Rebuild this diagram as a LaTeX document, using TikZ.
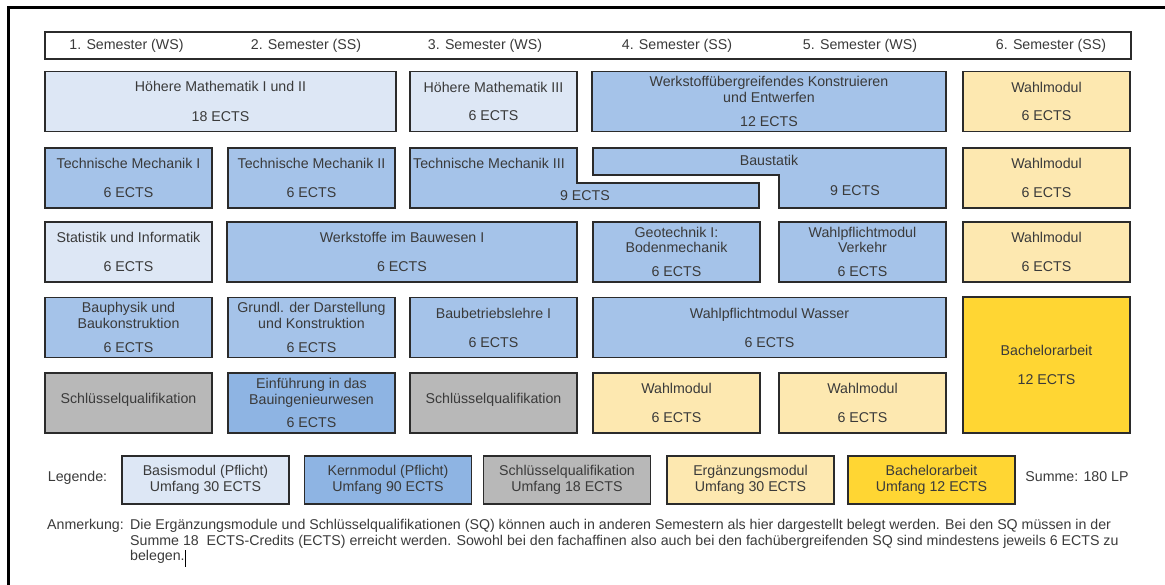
\documentclass[tikz,border=0pt]{standalone}
\usepackage{fontspec}
\setmainfont{Liberation Sans}
\definecolor{basisblue}{HTML}{DDE7F5}
\definecolor{kernblue}{HTML}{A5C3E9}
\definecolor{kerndark}{HTML}{8EB4E3}
\definecolor{sqgrey}{HTML}{B8B8B8}
\definecolor{ergyellow}{HTML}{FDE8B0}
\definecolor{bayellow}{HTML}{FFD633}
\definecolor{boxline}{HTML}{2B2B2B}
\definecolor{txt}{HTML}{3A3A3A}
\newcommand\modfont{\fontsize{14.2}{15.5}\selectfont}

\begin{document}
\begin{tikzpicture}[x=1pt,y=-1pt,
    every node/.style={font=\modfont, text=txt, inner sep=0pt},
    modbox/.style={draw=boxline, line width=1.4pt, minimum width=167, minimum height=60, align=center},
    basis/.style={modbox, fill=basisblue},
    kern/.style={modbox, fill=kernblue},
    kernb/.style={modbox, fill=kerndark},
    sq/.style={modbox, fill=sqgrey},
    erg/.style={modbox, fill=ergyellow},
    ba/.style={modbox, fill=bayellow},
    legbox/.style={minimum height=48}]

  \useasboundingbox (0,0) rectangle (1165,585);
  \draw[line width=3pt] (8,600) -- (8,8) -- (1180,8);

  % Semesterzeile
  \draw[boxline, line width=1.4pt, fill=white] (45,32) rectangle (1131,59);
  \node (s1) at (126.5,45.5) {1. Semester (WS)};
  \node (s2) at (306,45.5)   {2. Semester (SS)};
  \node (s3) at (485,45.5)   {3. Semester (WS)};
  \node (s4) at (677,45.5)   {4. Semester (SS)};
  \node (s5) at (860,45.5)   {5. Semester (WS)};
  \node (s6) at (1051,45.5)  {6. Semester (SS)};

  % Zeile 1
  \node[basis, minimum width=351] (hm12) at (220.5,101.5) {H\"ohere Mathematik I und II\\[14.5pt]18 ECTS};
  \node[basis] (hm3)  at (493.5,101.5) {H\"ohere Mathematik III\\[12.5pt]6 ECTS};
  \node[kern, minimum width=354] (wuk) at (769,101.5) {Werkstoff\"ubergreifendes Konstruieren\\und Entwerfen\\[8.5pt]12 ECTS};
  \node[erg] (wm1) at (1046.5,101.5) {Wahlmodul\\[12.5pt]6 ECTS};

  % Zeile 2
  \node[kern] (tm1) at (128.5,178) {Technische Mechanik I\\[13.5pt]6 ECTS};
  \node[kern] (tm2) at (311.5,178) {Technische Mechanik II\\[13.5pt]6 ECTS};
  \draw[boxline, line width=1.4pt, fill=kernblue]
    (410,148) -- (577,148) -- (577,183) -- (759,183) -- (759,208) -- (410,208) -- cycle;
  \draw[boxline, line width=1.4pt, fill=kernblue]
    (593,148) -- (946,148) -- (946,208) -- (779,208) -- (779,175) -- (593,175) -- cycle;
  \node (tm3)  at (489,163) {Technische Mechanik III};
  \node (tm3e) at (585,196) {9 ECTS};
  \node (bst)  at (769,160) {Baustatik};
  \node (bste) at (855,191) {9 ECTS};
  \node[erg] (wm2) at (1046.5,178) {Wahlmodul\\[13.5pt]6 ECTS};

  % Zeile 3
  \node[basis] (sti) at (128.5,252) {Statistik und Informatik\\[13.5pt]6 ECTS};
  \node[kern, minimum width=350] (wbw) at (402,252) {Werkstoffe im Bauwesen I\\[13.5pt]6 ECTS};
  \node[kern] (geo) at (676.5,252) {Geotechnik I:\\Bodenmechanik\\[8.5pt]6 ECTS};
  \node[kern] (wpv) at (862.5,252) {Wahlpflichtmodul\\Verkehr\\[8.5pt]6 ECTS};
  \node[erg] (wm3) at (1046.5,252) {Wahlmodul\\[13.5pt]6 ECTS};

  % Zeile 4
  \node[kern] (bph) at (128.5,327.5) {Bauphysik und\\Baukonstruktion\\[8.5pt]6 ECTS};
  \node[kern] (gdk) at (311.5,327.5) {Grundl. der Darstellung\\und Konstruktion\\[8.5pt]6 ECTS};
  \node[kern] (bbl) at (493.5,327.5) {Baubetriebslehre I\\[13.5pt]6 ECTS};
  \node[kern, minimum width=353] (wpw) at (769.5,327.5) {Wahlpflichtmodul Wasser\\[13.5pt]6 ECTS};
  \node[ba, minimum height=136] (bsc) at (1046.5,365) {Bachelorarbeit\\[13.5pt]12 ECTS};

  % Zeile 5
  \node[sq] (sq1) at (128.5,403) {\raisebox{3pt}[\height][\depth]{Schl\"usselqualifikation}};
  \node[kernb] (ebi) at (311.5,403) {Einf\"uhrung in das\\Bauingenieurwesen\\[7.5pt]6 ECTS};
  \node[sq] (sq2) at (493.5,403) {\raisebox{3pt}[\height][\depth]{Schl\"usselqualifikation}};
  \node[erg] (wm4) at (676.5,403) {Wahlmodul\\[13.5pt]6 ECTS};
  \node[erg] (wm5) at (862.5,403) {Wahlmodul\\[13.5pt]6 ECTS};

  % Legende
  \node (leg) at (77.5,478) {Legende:};
  \node[basis, legbox] (l1) at (205.5,480) {Basismodul (Pflicht)\\Umfang 30 ECTS};
  \node[kernb, legbox] (l2) at (388,480)  {Kernmodul (Pflicht)\\Umfang 90 ECTS};
  \node[sq, legbox]    (l3) at (567,480)  {Schl\"usselqualifikation\\Umfang 18 ECTS};
  \node[erg, legbox]   (l4) at (750.5,480) {Erg\"anzungsmodul\\Umfang 30 ECTS};
  \node[ba, legbox]    (l5) at (931.5,480) {Bachelorarbeit\\Umfang 12 ECTS};
  \node (sum) at (1077,477) {Summe: 180 LP};

  % Anmerkung
  \node[anchor=west] (anm) at (47,526) {Anmerkung:};
  \node[anchor=west] (an1) at (130,526) {Die Erg\"anzungsmodule und Schl\"usselqualifikationen (SQ) k\"onnen auch in anderen Semestern als hier dargestellt belegt werden. Bei den SQ m\"ussen in der};
  \node[anchor=west] (an2) at (130,542) {Summe 18\ \ ECTS-Credits (ECTS) erreicht werden. Sowohl bei den fachaffinen also auch bei den fach\"ubergreifenden SQ sind mindestens jeweils 6 ECTS zu};
  \node[anchor=west] (an3) at (130,557) {belegen.};
  \draw[black, line width=1pt] ([xshift=1pt]an3.north east) -- ([xshift=1pt,yshift=-3pt]an3.south east);

\end{tikzpicture}
\end{document}
